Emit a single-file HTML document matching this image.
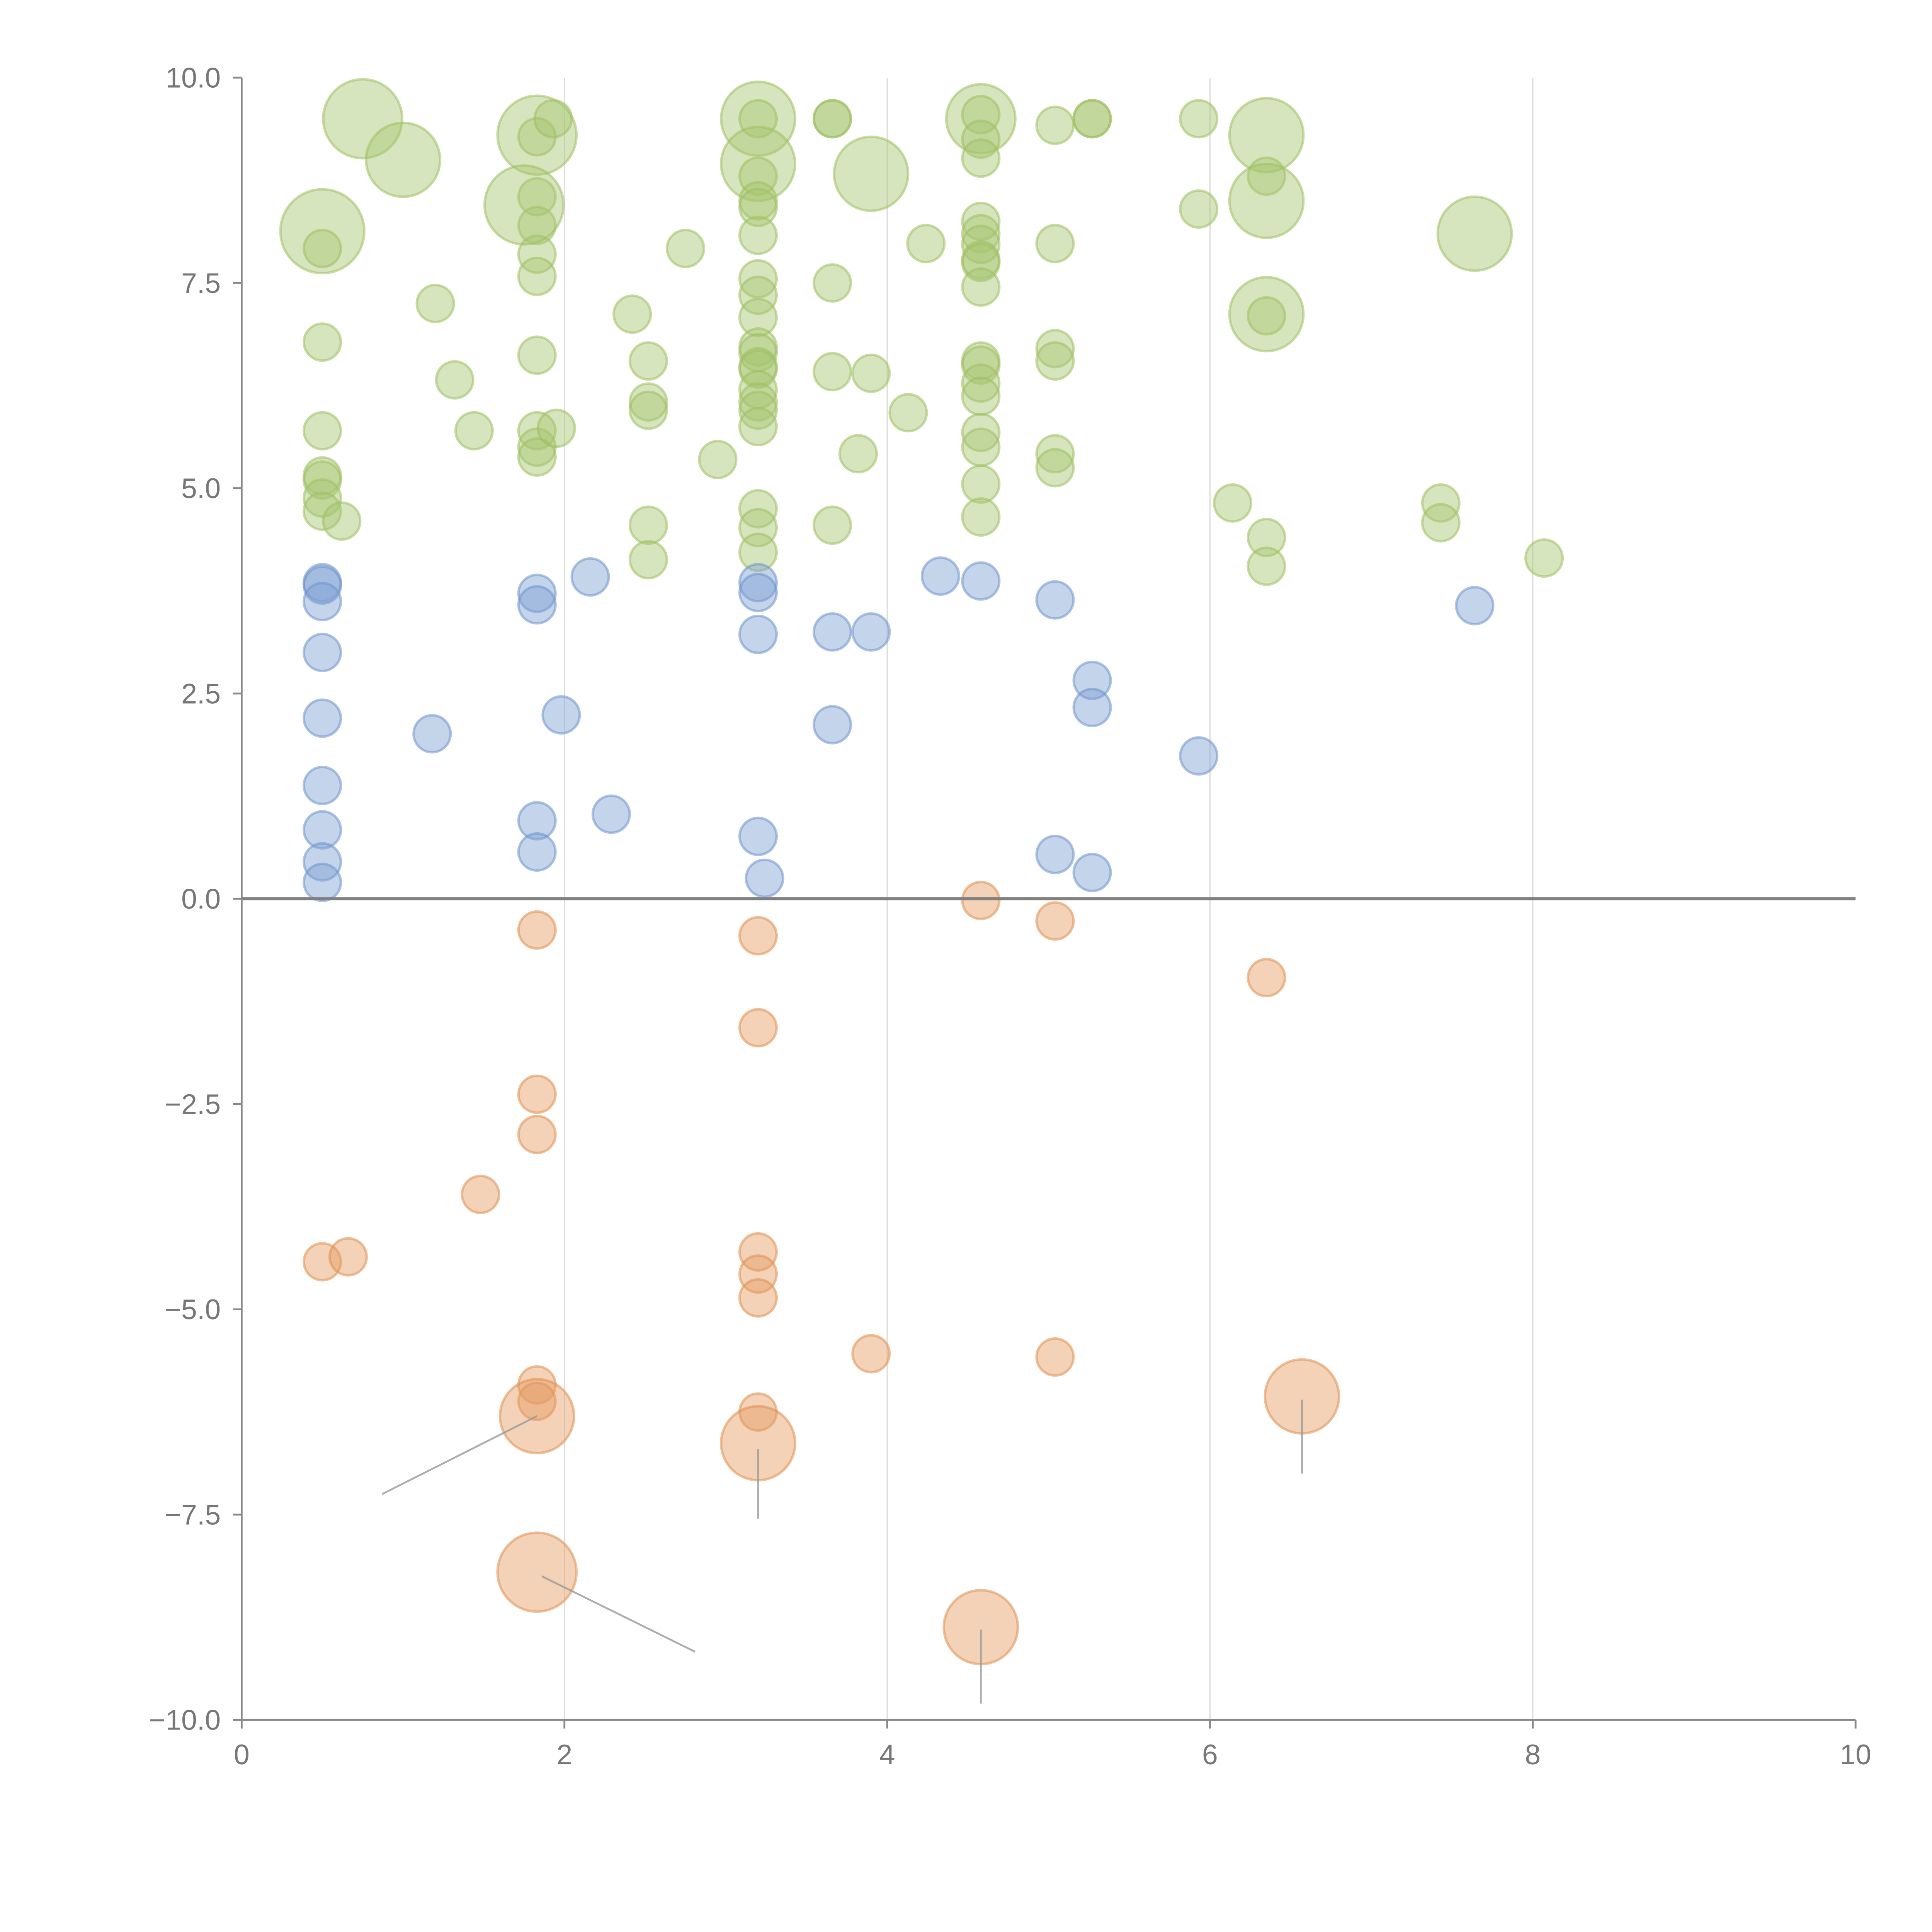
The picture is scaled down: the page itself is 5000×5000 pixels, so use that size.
<!DOCTYPE html>
<html><head><meta charset="utf-8"><style>
html,body{margin:0;padding:0;background:#fff;}
svg{display:block;}
text{font-family:"Liberation Sans",sans-serif;}
</style></head><body>
<svg id="chart" width="5000" height="5000" viewBox="0 0 1567 1567" xmlns="http://www.w3.org/2000/svg">
<g id="grid"></g>
<g id="marks"></g>
<g id="leaders"></g>
<g id="axes"></g>
</svg>
<script>
const greenX=[
0.5,0.5,0.5,0.5,0.5,0.5,0.5,0.5,
0.62,0.75,1.0,1.2,1.32,1.44,
1.83,1.83,1.83,1.83,1.83,1.83,1.83,1.83,1.83,1.83,
1.75,1.93,1.95,2.42,
2.52,2.52,2.52,2.52,2.52,
2.75,2.95,
3.2,3.2,3.2,3.2,3.2,3.2,3.2,3.2,3.2,3.2,3.2,3.2,3.2,3.2,3.2,3.2,3.2,3.2,3.2,3.2,3.2,
3.66,3.66,3.66,3.66,3.66,
3.82,3.9,3.9,4.13,4.24,
4.58,4.58,4.58,4.58,4.58,4.58,4.58,4.58,4.58,4.58,4.58,4.58,4.58,4.58,4.58,4.58,4.58,4.58,
5.04,5.04,5.04,5.04,5.04,5.04,
5.27,5.27,5.93,5.93,6.14,
6.35,6.35,6.35,6.35,6.35,6.35,6.35,
7.43,7.43,7.64,8.07];
const greenY=[
8.13,7.92,6.78,5.7,5.15,5.1,4.88,4.72,
4.6,9.5,9.0,7.25,6.32,5.7,
9.3,9.28,8.55,8.2,7.85,7.58,6.62,5.7,5.5,5.38,
8.45,9.5,5.73,7.12,
6.55,6.05,5.95,4.55,4.13,
7.92,5.35,
9.5,9.5,8.95,8.8,8.5,8.42,8.08,7.55,7.35,7.08,6.72,6.65,6.48,6.45,6.2,6.05,5.95,5.75,4.75,4.52,4.22,
9.5,9.5,7.5,6.42,4.55,
5.42,8.83,6.4,5.92,7.98,
9.5,9.55,9.25,9.02,8.25,8.1,7.97,7.78,7.75,7.45,6.55,6.5,6.28,6.12,5.68,5.5,5.05,4.65,
9.42,7.98,6.7,6.55,5.42,5.25,
9.5,9.5,9.5,8.4,4.82,
9.3,8.8,8.5,7.12,7.1,4.4,4.05,
4.82,4.58,8.1,4.15];
const greenS=[
34,15,15,15,15,15,15,15,
15,32,30,15,15,15,
32,15,15,15,15,15,15,15,15,15,
32,15,15,15,
15,15,15,15,15,
15,15,
30,15,30,15,15,15,15,15,15,15,15,15,15,15,15,15,15,15,15,15,15,
15,15,15,15,15,
15,30,15,15,15,
28,15,15,15,15,15,15,15,15,15,15,15,15,15,15,15,15,15,
15,15,15,15,15,15,
15,15,15,15,15,
30,15,30,30,15,15,15,
15,15,30,15];
const blueX=[0.5,0.5,0.5,0.5,0.5,0.5,0.5,0.5,0.5,1.18,1.83,1.83,1.83,1.83,1.98,2.16,2.29,3.2,3.2,3.2,3.2,3.24,3.66,3.66,3.9,4.33,4.58,5.04,5.04,5.27,5.27,5.27,5.93,7.64];
const blueY=[3.85,3.82,3.62,3.0,2.2,1.38,0.84,0.45,0.2,2.01,3.72,3.58,0.95,0.57,2.24,3.92,1.03,3.85,3.73,3.22,0.76,0.25,3.25,2.12,3.25,3.93,3.87,3.64,0.54,2.66,2.33,0.32,1.74,3.57];
const orangeX=[1.83,1.83,1.83,1.48,0.5,0.66,3.2,3.2,3.2,3.2,3.2,3.9,5.04,5.04,4.58,6.35,1.83,1.83,1.83,3.2,3.2,6.57,1.83,4.58];
const orangeY=[-0.38,-2.38,-2.87,-3.6,-4.42,-4.36,-0.45,-1.57,-4.3,-4.57,-4.86,-5.54,-5.58,-0.27,-0.02,-0.96,-5.92,-6.12,-6.3,-6.25,-6.63,-6.06,-8.2,-8.87];
const orangeS=[15,15,15,15,15,15,15,15,15,15,15,15,15,15,15,15,15,15,30,15,30,30,32,30];
const xTicks=[0,2,4,6,8,10];
const yTicks=[-10,-7.5,-5,-2.5,0,2.5,5,7.5,10];
const yTickLabels=["\u221210.0","\u22127.5","\u22125.0","\u22122.5","0.0","2.5","5.0","7.5","10.0"];
const leaderFromX=[1.83,3.2,6.57,1.86,4.58];
const leaderFromY=[-6.3,-6.7,-6.1,-8.25,-8.9];
const leaderToX=[0.87,3.2,6.57,2.81,4.58];
const leaderToY=[-7.25,-7.55,-7.0,-9.17,-9.8];

const X0=196,X1=1505,Y0=1395,Y1=63;
const sx=v=>X0+(v-0)/(10-0)*(X1-X0);
const sy=v=>Y0-(v+10)/20*(Y0-Y1);
const NS="http://www.w3.org/2000/svg";
function mk(tag,attrs,parent){const e=document.createElementNS(NS,tag);for(const k in attrs)e.setAttribute(k,attrs[k]);parent.appendChild(e);return e;}
const grid=document.getElementById('grid'),marks=document.getElementById('marks'),axes=document.getElementById('axes'),leaders=document.getElementById('leaders');

[2,4,6,8].forEach(v=>{
  const l=mk('line',{x1:sx(v),x2:sx(v),y1:Y1,y2:Y0,stroke:'#dcdcdc','stroke-width':1},grid);
  
  
});

function series(xs,ys,ss,fill,stroke,name){
  xs.forEach((x,i)=>{
    const c=mk('circle',{cx:sx(x),cy:sy(ys[i]),r:ss?ss[i]:15,fill:fill,'fill-opacity':0.45,stroke:stroke,'stroke-opacity':0.55,'stroke-width':2},marks);
    
    
  });
}
series(greenX,greenY,greenS,'#a6c570','#9fc060','green');
series(blueX,blueY,null,'#7d9fd3','#6f93cc','blue');
series(orangeX,orangeY,orangeS,'#e59b62','#e08f50','orange');

leaderFromX.forEach((x,i)=>{
  const l=mk('line',{x1:sx(x),y1:sy(leaderFromY[i]),x2:sx(leaderToX[i]),y2:sy(leaderToY[i]),stroke:'#999','stroke-width':1.5,'stroke-opacity':0.8},leaders);
  
  
});

let z=mk('line',{x1:X0,x2:X1,y1:sy(0),y2:sy(0),stroke:'#808080','stroke-width':2.5},axes);


let ya=mk('line',{x1:X0,x2:X0,y1:Y1,y2:Y0,stroke:'#888','stroke-width':1.5},axes);


let xa=mk('line',{x1:X0,x2:X1,y1:Y0,y2:Y0,stroke:'#888','stroke-width':1.5},axes);



xTicks.forEach(v=>{
  const t=mk('line',{x1:sx(v),x2:sx(v),y1:Y0,y2:Y0+7,stroke:'#888','stroke-width':1.5},axes);
  
  
  const tx=mk('text',{x:sx(v),y:Y0+36,'text-anchor':'middle','font-size':23,fill:'#777'},axes);
  tx.textContent=String(v);
  
  
});
yTicks.forEach((v,i)=>{
  const t=mk('line',{x1:X0-7,x2:X0,y1:sy(v),y2:sy(v),stroke:'#888','stroke-width':1.5},axes);
  
  
  const tx=mk('text',{x:X0-17,y:sy(v)+8,'text-anchor':'end','font-size':23,fill:'#777'},axes);
  tx.textContent=yTickLabels[i];
  
  
});
</script>
</body></html>
